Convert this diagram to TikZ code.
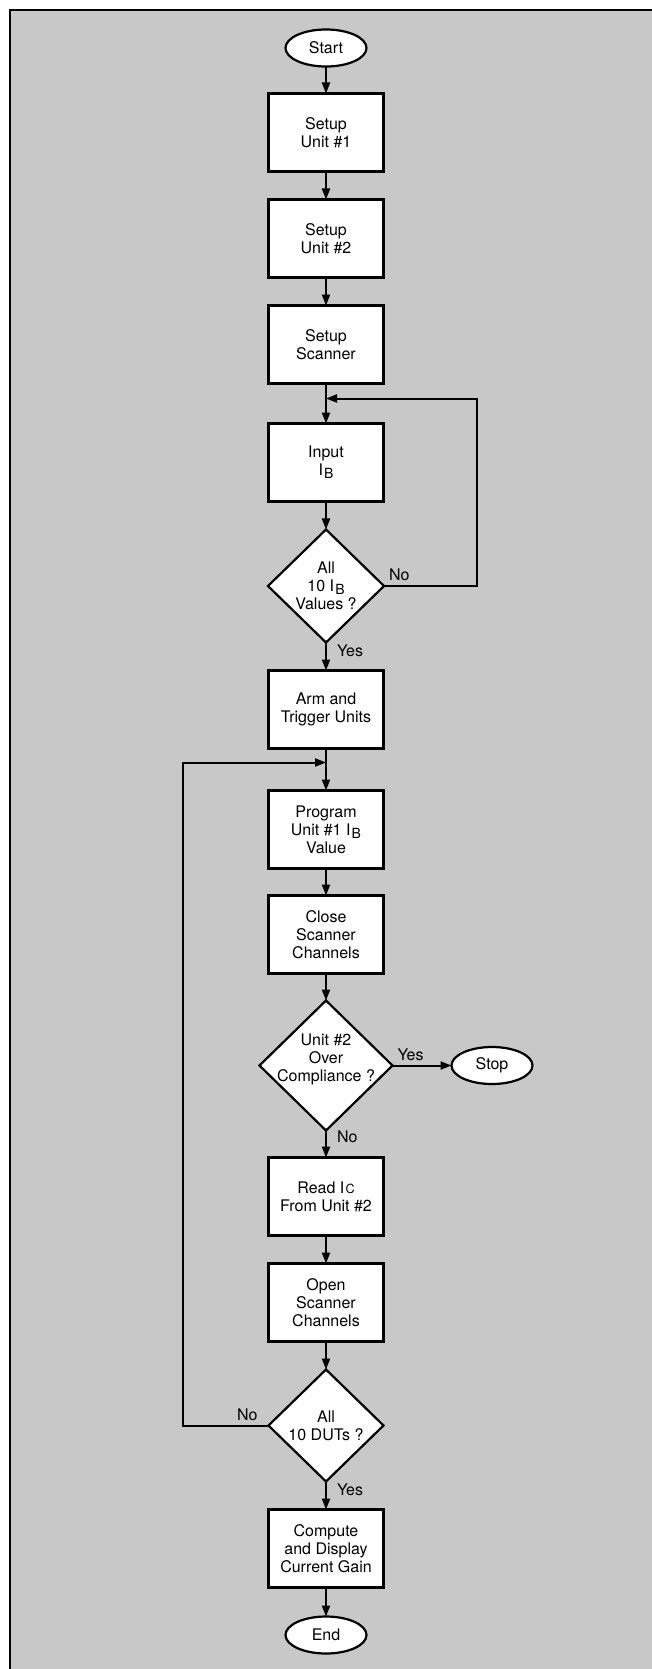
\documentclass[tikz,border=0pt]{standalone}
\usepackage{fontspec}
\setmainfont{TeX Gyre Heros}
\usepackage{tikz}
\usetikzlibrary{
  shapes.geometric,
  arrows.meta,
  positioning, calc
}
\usepackage{xcolor}
\definecolor{ScreenGray}{RGB}{200,200,200}
\newcommand{\lowsub}[1]{\kern0.6pt\raisebox{-1.4pt}{\fontsize{7}{7}\selectfont #1}}
\newcommand{\smallsub}[1]{\kern0.6pt\raisebox{-0.3pt}{\fontsize{6.3}{7}\selectfont #1}}
\tikzset{
  basebox/.style={draw=black,line width=1.1pt,fill=white,align=center,
    font=\fontsize{8}{9}\selectfont,inner sep=0pt,outer sep=0pt},
  termbox/.style={basebox,ellipse,minimum width=40.5pt,minimum height=18.5pt},
  procbox/.style={basebox,rectangle,minimum width=57.5pt,minimum height=39pt},
  decbox/.style={basebox,diamond,minimum width=58pt,minimum height=56.5pt},
  arrow/.style={-{Triangle[length=5.5pt,width=4pt]},line width=1pt,color=black},
  lbl/.style={font=\fontsize{8}{9}\selectfont,inner sep=2pt}
}

\begin{document}
\begin{tikzpicture}[x=0.5pt,y=0.5pt,node distance=14pt]
  % page frame with screened background
  \useasboundingbox (0,0) rectangle (652,-1669);
  \fill[ScreenGray] (10,-10) rectangle (652,-1669);
  \draw[line width=1.3pt] (10,-1669) -- (10,-10) -- (652,-10);

  \node[termbox] (start) at (326,-48) {Start};
  \node[procbox,below=13.5pt of start] (setup1) {Setup\\Unit \#1};
  \node[procbox,below=of setup1] (setup2) {Setup\\Unit \#2};
  \node[procbox,below=of setup2] (scan) {Setup\\Scanner};
  \node[procbox,below=20pt of scan] (input) {Input\\I\lowsub{B}};
  \node[decbox,below=of input] (q1) {All\\10 I\lowsub{B}\\Values ?};
  \node[procbox,below=of q1] (arm) {Arm and\\Trigger Units};
  \node[procbox,below=21pt of arm] (prog) {Program\\Unit \#1 I\lowsub{B}\\Value};
  \node[procbox,below=13.5pt of prog] (close) {Close\\Scanner\\Channels};
  \node[decbox,minimum width=66.5pt,minimum height=65pt,below=13.5pt of close] (q2)
    {Unit \#2\\Over\\\makebox[30pt]{Compliance ?}\\[-1pt]\mbox{}};
  \node[termbox,right=29.5pt of q2] (stop) {Stop};
  \node[procbox,below=13.5pt of q2] (read) {Read I\smallsub{C}\\From Unit \#2};
  \node[procbox,below=of read] (open) {Open\\Scanner\\Channels};
  \node[decbox,minimum width=57.5pt,minimum height=56pt,below=of open] (q3) {All\\10 DUTs ?};
  \node[procbox,below=of q3] (comp) {Compute\\and Display\\Current Gain};
  \node[termbox,below=14.5pt of comp] (finish) {End};

  % loop joins
  \coordinate[below=7.5pt of scan] (joinA);
  \coordinate[below=7pt of arm] (joinB);
  \coordinate (rgt) at ($(joinA)+(75.5pt,0)$);
  \coordinate (lft) at ($(joinB)+(-71.5pt,0)$);

  \foreach \a/\b in {start/setup1,setup1/setup2,setup2/scan,scan/input,input/q1,
    arm/prog,prog/close,close/q2,read/open,open/q3,comp/finish}
    \draw[arrow] (\a)--(\b);
  \draw[arrow] (q1) -- node[lbl,pos=0.3,right=3pt] (yes1) {Yes} (arm);
  \draw[arrow] (q2) -- node[lbl,pos=0.25,right=3pt] (no2) {No} (read);
  \draw[arrow] (q3) -- node[lbl,pos=0.3,right=3pt] (yes3) {Yes} (comp);
  \draw[arrow] (q2) -- node[lbl,pos=0,anchor=south west] (yes2) {Yes} (stop);
  \draw[arrow] (q1.east) node[lbl,anchor=south west] (no1) {No} -| (rgt) -- (joinA);
  \draw[arrow] (q3.west) node[lbl,anchor=south east,xshift=-3pt] (no3) {No} -| (lft) -- (joinB);
\end{tikzpicture}
\end{document}
